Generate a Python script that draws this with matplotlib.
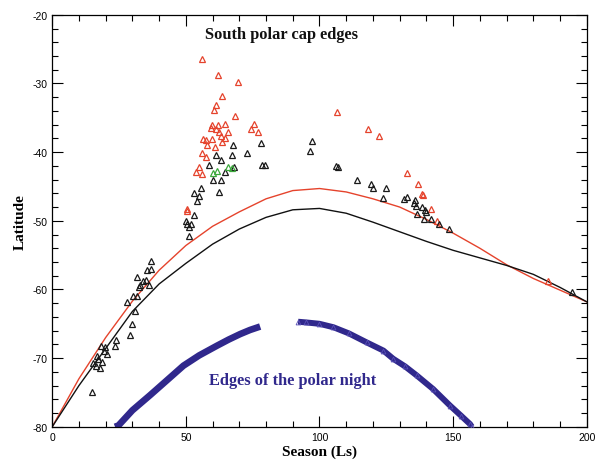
import matplotlib
matplotlib.use("Agg")
import matplotlib.pyplot as plt
from matplotlib.ticker import MultipleLocator

plt.rcParams["axes.unicode_minus"] = False

# ---- model curves (Ls, latitude) ----
curve_ls = [0, 10, 20, 30, 40, 50, 60, 70, 80, 90, 100, 110, 120, 130, 140, 150, 160, 170, 180, 190, 200]
red_curve = [-80, -73, -67, -61.7, -57.2, -53.6, -50.8, -48.7, -46.8, -45.6, -45.3, -45.8, -46.8, -48.0,
             -49.8, -51.8, -54.0, -56.4, -58.4, -60.1, -61.8]
black_curve = [-80, -74, -68.6, -63.2, -59.2, -56.2, -53.4, -51.2, -49.5, -48.4, -48.2, -48.9, -50.2, -51.6,
               -53.0, -54.3, -55.4, -56.5, -57.8, -59.7, -61.8]

# ---- observed cap edges ----
red_ls = [56.0, 61.9, 69.6, 63.7, 61.2, 60.7, 68.4, 59.9, 61.9, 59.4, 61.2, 64.7, 62.4, 65.7, 63.2, 64.7,
          56.6, 57.5, 59.9, 63.4, 57.8, 60.9, 56.0, 57.5, 55.0, 53.7, 56.2, 50.5, 50.5, 75.6, 74.4, 77.1,
          106.4, 118.0, 122.2, 132.8, 136.9, 138.2, 138.8, 141.9, 143.8, 185.5]
red_lat = [-26.4, -28.8, -29.8, -31.8, -33.2, -33.8, -34.7, -36.0, -36.0, -36.5, -36.7, -35.9, -37.1, -37.1,
           -37.6, -38.0, -38.1, -38.2, -38.1, -38.5, -38.9, -39.3, -40.2, -40.7, -42.1, -42.9, -43.2, -48.3,
           -48.6, -35.9, -36.7, -37.0, -34.1, -36.7, -37.7, -43.0, -44.6, -46.1, -46.3, -48.3, -50.1, -58.7]

black_ls = [67.6, 67.2, 61.3, 63.2, 58.7, 68.1, 60.1, 63.2, 55.7, 53.2, 55.0, 54.1, 62.4, 53.1, 50.0, 50.4,
            52.0, 51.0, 51.3, 78.0, 72.8, 78.5, 79.5, 97.1, 96.4, 106.1, 107.0, 113.9, 119.1, 119.9, 124.7,
            123.6, 131.6, 132.6, 135.7, 135.4, 136.1, 138.2, 139.4, 139.8, 136.6, 139.1, 141.7, 144.8, 148.4,
            194.3, 64.7,
            36.9, 37.0, 35.6, 31.7, 34.1, 35.1, 32.9, 32.6, 36.4, 30.2, 31.7, 28.1, 30.8, 29.8, 29.2, 23.9,
            23.6, 18.2, 19.8, 19.2, 20.4, 16.7, 17.3, 18.6, 15.4, 16.4, 17.7, 14.8]
black_lat = [-39.0, -40.4, -40.4, -41.2, -41.9, -42.2, -44.0, -44.0, -45.2, -45.9, -46.4, -47.1, -45.8, -49.1,
             -50.0, -50.5, -50.5, -50.9, -52.2, -38.7, -40.1, -41.9, -41.9, -38.4, -39.9, -42.0, -42.1, -44.0,
             -44.6, -45.2, -45.2, -46.7, -46.8, -46.5, -46.9, -47.4, -47.9, -48.0, -48.4, -48.7, -49.0, -49.8,
             -49.8, -50.4, -51.2, -60.3, -42.9,
             -55.9, -57.0, -57.2, -58.2, -58.7, -58.6, -59.3, -59.7, -59.3, -61.0, -60.9, -61.8, -63.2, -65.1,
             -66.7, -67.3, -68.2, -68.2, -68.4, -69.0, -69.4, -69.7, -70.1, -70.5, -70.7, -71.1, -71.4, -75.0]

green_ls = [60.2, 61.8, 65.9, 67.2]
green_lat = [-43.1, -42.7, -42.2, -42.3]

# ---- edges of the polar night ----
night_left_ls = [23.5, 24.8, 30.0, 36.6, 43.0, 49.1, 55.0, 61.6, 66.0, 70.3, 74.0, 77.8]
night_left_lat = [-80.0, -79.8, -77.6, -75.4, -73.2, -71.1, -69.6, -68.2, -67.3, -66.5, -65.9, -65.4]
night_right_ls = [92.0, 95.0, 100.0, 105.2, 111.0, 117.6, 123.9, 127.6, 132.0, 136.3, 142.5, 148.8, 153.0, 156.3, 157.0]
night_right_lat = [-64.7, -64.8, -65.0, -65.5, -66.4, -67.7, -68.9, -70.1, -71.2, -72.5, -74.5, -76.9, -78.4, -79.6, -80.0]

red_c = "#e5432c"
navy = "#30288c"

fig = plt.figure(figsize=(6.0, 4.64), dpi=100)
ax = fig.add_axes([0.087, 0.078, 0.891, 0.888])

ax.plot(curve_ls, red_curve, color=red_c, lw=1.0, zorder=2)
ax.plot(curve_ls, black_curve, color="#111111", lw=1.0, zorder=2)

mk = dict(marker="^", linestyle="none", markersize=4.8, markerfacecolor="none", markeredgewidth=0.9)
ax.plot(red_ls, red_lat, markeredgecolor=red_c, zorder=3, **mk)
ax.plot(black_ls, black_lat, markeredgecolor="#1a1a1a", zorder=3, **mk)
ax.plot(green_ls, green_lat, markeredgecolor="#3aa83a", zorder=4, **mk)

ax.plot(night_left_ls, night_left_lat, color=navy, lw=4.8, solid_capstyle="butt", zorder=2)
ax.plot(night_right_ls, night_right_lat, color=navy, lw=4.3, solid_capstyle="butt", zorder=2)
ax.plot(night_right_ls, night_right_lat, marker="^", linestyle="none", markersize=3.5,
        markerfacecolor="none", markeredgecolor="#5a50b8", markeredgewidth=0.6, zorder=3)

ax.set_xlim(0, 200)
ax.set_ylim(-80, -20)
ax.xaxis.set_major_locator(MultipleLocator(50))
ax.xaxis.set_minor_locator(MultipleLocator(10))
ax.yaxis.set_major_locator(MultipleLocator(10))
ax.yaxis.set_minor_locator(MultipleLocator(2))
ax.tick_params(which="both", direction="in", top=True, right=True, labelsize=7.5, width=0.8)
ax.tick_params(which="major", length=8)
ax.tick_params(which="minor", length=4)
for lab in ax.get_xticklabels() + ax.get_yticklabels():
    lab.set_family("Liberation Sans")
for s in ax.spines.values():
    s.set_linewidth(0.9)

ax.set_xlabel("Season (Ls)", family="Liberation Serif", fontweight="bold", fontsize=11, labelpad=2)
ax.set_ylabel("Latitude", family="Liberation Serif", fontweight="bold", fontsize=11, labelpad=4)

ax.text(85.6, -22.8, "South polar cap edges", family="Liberation Serif", fontweight="bold",
        fontsize=11.8, ha="center", va="center", color="#111111")
ax.text(89.8, -73.2, "Edges of the polar night", family="Liberation Serif", fontweight="bold",
        fontsize=11.8, ha="center", va="center", color=navy)

fig.savefig("out.png", dpi=100)
